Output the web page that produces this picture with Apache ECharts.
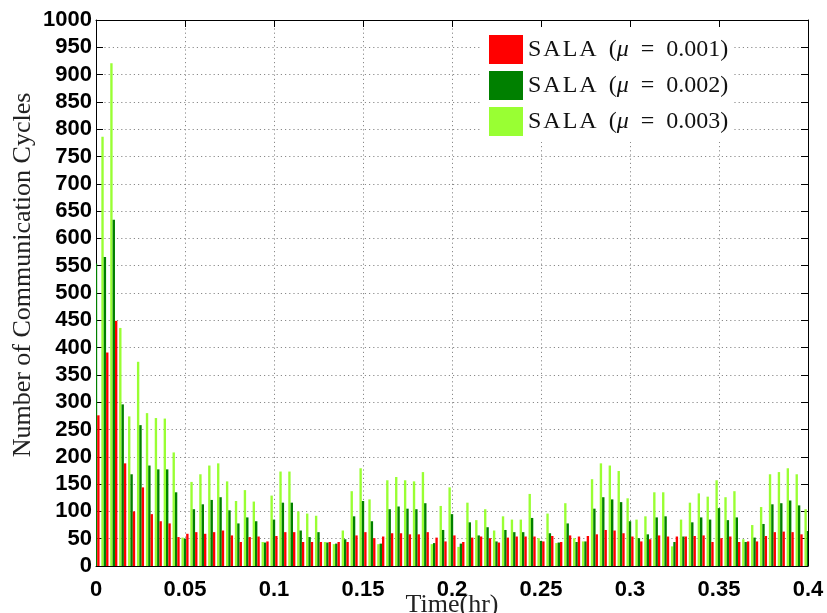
<!DOCTYPE html>
<html>
<head>
<meta charset="utf-8">
<title>SALA communication cycles</title>
<script src="https://cdn.jsdelivr.net/npm/echarts@6/dist/echarts.min.js"></script>
<style>
  html, body { margin: 0; padding: 0; background: #fff; }
  #chart { width: 827px; height: 613px; }
</style>
</head>
<body>
<div id="chart"></div>
<script>
// Sampling instants (hours)
const times = [
  0, 0.005, 0.01, 0.015, 0.02, 0.025, 0.03, 0.035, 0.04, 0.045,
  0.05, 0.055, 0.06, 0.065, 0.07, 0.075, 0.08, 0.085, 0.09, 0.095,
  0.1, 0.105, 0.11, 0.115, 0.12, 0.125, 0.13, 0.135, 0.14, 0.145,
  0.15, 0.155, 0.16, 0.165, 0.17, 0.175, 0.18, 0.185, 0.19, 0.195,
  0.2, 0.205, 0.21, 0.215, 0.22, 0.225, 0.23, 0.235, 0.24, 0.245,
  0.25, 0.255, 0.26, 0.265, 0.27, 0.275, 0.28, 0.285, 0.29, 0.295,
  0.3, 0.305, 0.31, 0.315, 0.32, 0.325, 0.33, 0.335, 0.34, 0.345,
  0.35, 0.355, 0.36, 0.365, 0.37, 0.375, 0.38, 0.385, 0.39, 0.395,
  0.4
];

// Communication cycles, mu = 0.001
const cyclesMu001 = [
  276, 391, 449, 188, 100, 144, 95, 82, 78, 53,
  59, 62, 59, 62, 65, 56, 44, 53, 54, 45,
  55, 62, 62, 44, 44, 44, 44, 44, 44, 56,
  62, 51, 54, 60, 60, 58, 58, 62, 52, 45,
  56, 44, 52, 54, 51, 43, 52, 54, 54, 54,
  45, 55, 44, 56, 54, 55, 58, 66, 65, 60,
  54, 45, 49, 56, 54, 54, 54, 55, 56, 44,
  51, 54, 44, 45, 45, 55, 62, 63, 62, 58,
  55
];

// Communication cycles, mu = 0.002
const cyclesMu002 = [
  554, 566, 634, 296, 168, 258, 184, 177, 177, 135,
  50, 104, 113, 121, 126, 102, 78, 89, 82, 43,
  85, 116, 116, 65, 53, 62, 43, 41, 49, 91,
  119, 82, 41, 104, 109, 105, 104, 115, 42, 66,
  95, 41, 80, 56, 71, 45, 66, 62, 62, 88,
  46, 60, 43, 78, 44, 45, 105, 126, 122, 117,
  82, 51, 58, 89, 91, 44, 54, 80, 89, 85,
  106, 84, 89, 44, 52, 77, 113, 115, 120, 111,
  64
];

// Communication cycles, mu = 0.003
const cyclesMu003 = [
  700, 786, 921, 436, 274, 374, 280, 271, 270, 208,
  52, 154, 168, 184, 188, 155, 119, 139, 118, 44,
  129, 173, 173, 100, 96, 92, 44, 40, 65, 137,
  179, 122, 40, 157, 163, 157, 155, 172, 40, 110,
  144, 35, 116, 84, 104, 65, 91, 85, 85, 132,
  51, 96, 42, 115, 51, 45, 159, 188, 184, 174,
  124, 85, 91, 135, 135, 36, 85, 116, 133, 127,
  157, 126, 137, 49, 75, 108, 168, 172, 179, 168,
  104
];

const seriesNames = ['SALA (\u03bc = 0.001)', 'SALA (\u03bc = 0.002)', 'SALA (\u03bc = 0.003)'];
const seriesColors = ['#ff0000', '#008000', '#99ff33'];

const serif = '"Liberation Serif", "DejaVu Serif", serif';
const sans = '"Liberation Sans", Arial, Helvetica, sans-serif';

// spacing between consecutive samples, used as the width of one bar group
const sampleStep = times[1] - times[0];
const groupFill = 0.8;       // share of the step covered by the three bars
const barsPerGroup = 3;

function pairs(values) {
  return times.map((t, i) => [t, values[i]]);
}

// Grouped bar drawn through the axis scales; slot = position inside the group
function groupedBar(slot) {
  return function (params, api) {
    const t = api.value(0);
    const v = api.value(1);
    const base = api.coord([t, 0]);
    const top = api.coord([t, v]);
    const band = api.size([sampleStep, 0])[0];
    const w = band * groupFill / barsPerGroup;
    const left = base[0] - band * groupFill / 2 + slot * w;
    return {
      type: 'rect',
      shape: { x: left, y: top[1], width: w, height: base[1] - top[1] },
      style: { fill: api.visual('color') }
    };
  };
}

const tickStyle = { show: true, inside: true, length: 7, lineStyle: { color: '#000', width: 1 } };
const axisLine = { show: true, onZero: false, lineStyle: { color: '#000', width: 1 } };
const gridLine = { show: true, lineStyle: { color: '#8a8a8a', width: 1, type: [1.2, 3] } };

const chart = echarts.init(document.getElementById('chart'), null, { renderer: 'canvas' });

// left-to-right order inside each group: mu = 0.003, 0.002, 0.001
const groupOrder = [
  { name: seriesNames[2], color: seriesColors[2], values: cyclesMu003 },
  { name: seriesNames[1], color: seriesColors[1], values: cyclesMu002 },
  { name: seriesNames[0], color: seriesColors[0], values: cyclesMu001 }
];

chart.setOption({
  animation: false,
  backgroundColor: '#fff',
  grid: { left: 96, right: 19, top: 20, bottom: 47, containLabel: false, outerBoundsMode: 'none' },
  legend: {
    data: seriesNames,
    orient: 'vertical',
    left: 481,
    top: 28,
    padding: [7, 4, 6, 8],
    itemGap: 7,
    itemWidth: 34,
    itemHeight: 29,
    icon: 'rect',
    backgroundColor: '#fff',
    selectedMode: false,
    formatter: function (name) {
      const val = name.split('= ')[1].replace(')', '');
      return '{t|S\u200aA\u200aL\u200aA\u2002(}{m|\u03bc}{t|\u2002=\u2002' + val + ')}';
    },
    textStyle: {
      rich: {
        t: { fontFamily: serif, fontSize: 24, color: '#111' },
        m: { fontFamily: serif, fontSize: 24, fontStyle: 'italic', color: '#111' }
      }
    }
  },
  xAxis: [
    {
      type: 'value',
      min: 0,
      max: 0.4,
      interval: 0.05,
      name: 'Time(hr)',
      nameLocation: 'middle',
      nameGap: 26,
      nameMoveOverlap: false,
      nameTextStyle: { fontFamily: serif, fontSize: 26, color: '#222' },
      axisLine: axisLine,
      axisTick: tickStyle,
      axisLabel: {
        margin: 13,
        fontFamily: sans,
        fontWeight: 'bold',
        fontSize: 22,
        color: '#000',
        formatter: v => String(+v.toFixed(2))
      },
      splitLine: gridLine
    },
    {
      type: 'value',
      position: 'top',
      min: 0,
      max: 0.4,
      interval: 0.05,
      axisLine: axisLine,
      axisTick: tickStyle,
      axisLabel: { show: false },
      splitLine: { show: false }
    }
  ],
  yAxis: [
    {
      type: 'value',
      min: 0,
      max: 1000,
      interval: 50,
      name: 'Number of Communication Cycles',
      nameLocation: 'middle',
      nameGap: 60,
      nameMoveOverlap: false,
      nameRotate: 90,
      nameTextStyle: { fontFamily: serif, fontSize: 26, color: '#222', padding: [0, 0, 0, 36] },
      axisLine: axisLine,
      axisTick: tickStyle,
      axisLabel: {
        margin: 4,
        fontFamily: sans,
        fontWeight: 'bold',
        fontSize: 22,
        color: '#000',
        formatter: v => String(v)
      },
      splitLine: gridLine
    },
    {
      type: 'value',
      position: 'right',
      min: 0,
      max: 1000,
      interval: 50,
      axisLine: axisLine,
      axisTick: tickStyle,
      axisLabel: { show: false },
      splitLine: { show: false }
    }
  ],
  series: groupOrder.map((g, slot) => ({
    name: g.name,
    type: 'custom',
    xAxisIndex: 0,
    yAxisIndex: 0,
    clip: true,
    encode: { x: 0, y: 1 },
    itemStyle: { color: g.color },
    renderItem: groupedBar(slot),
    data: pairs(g.values)
  }))
});
</script>
</body>
</html>
